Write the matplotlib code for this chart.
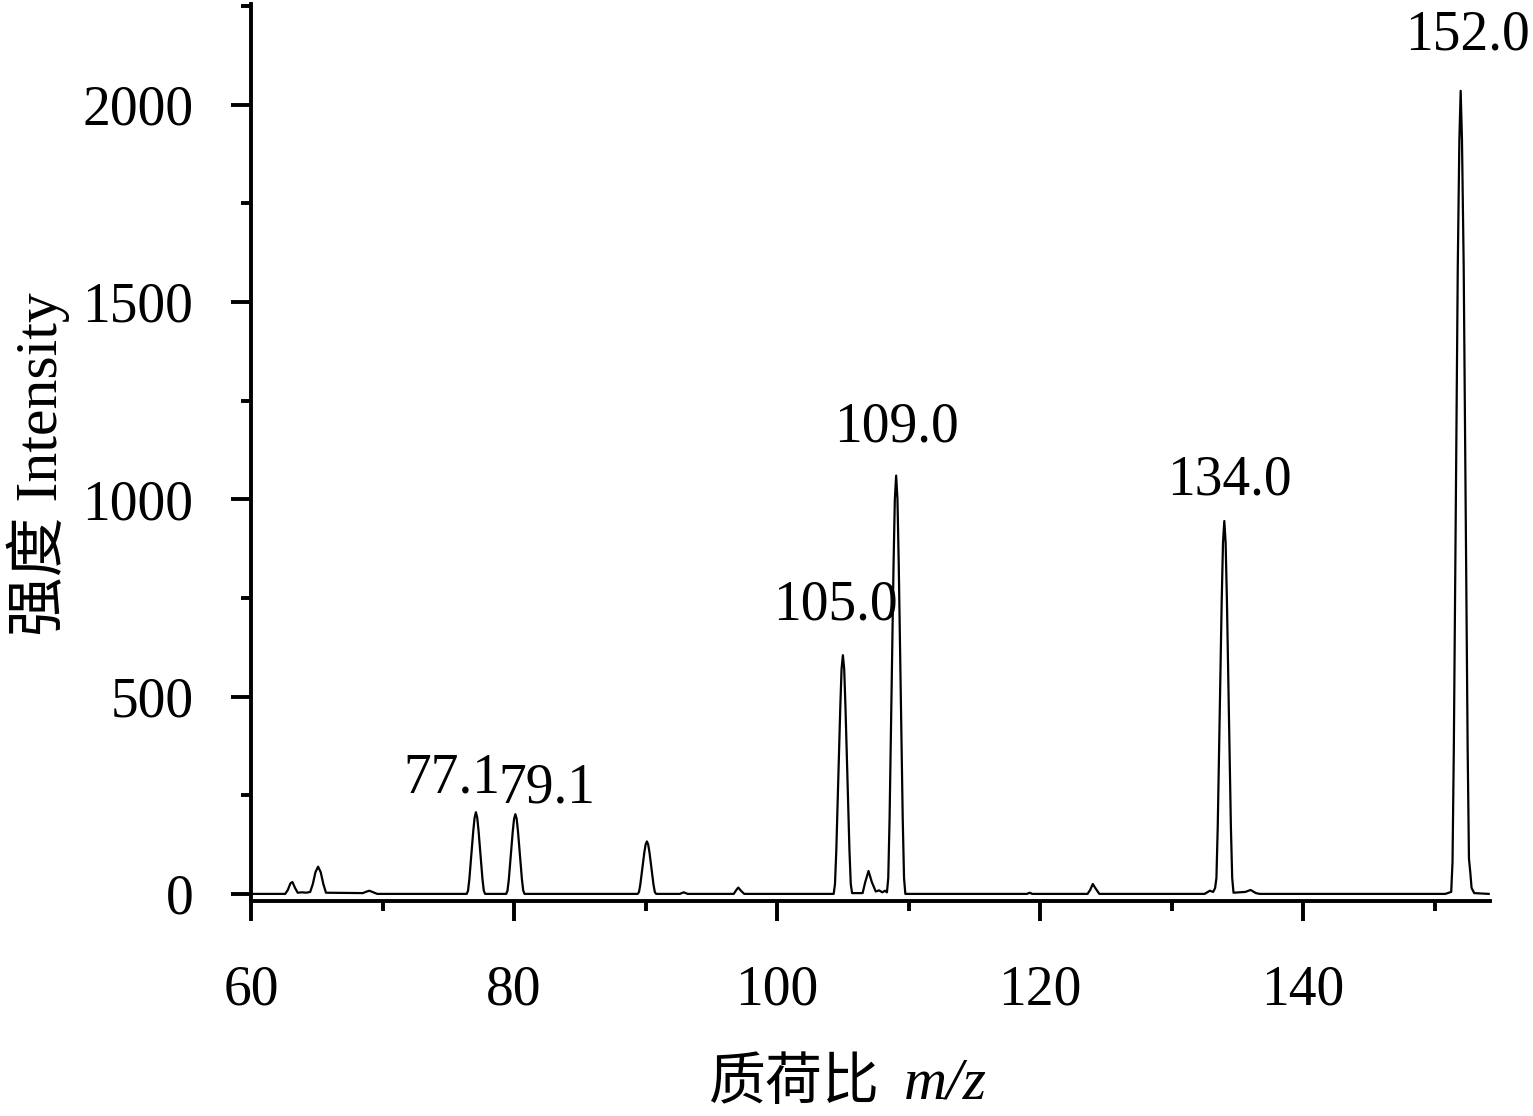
"""Mass spectrum: intensity vs m/z"""

import matplotlib

matplotlib.use("Agg")
import matplotlib.pyplot as plt
from matplotlib.ticker import MultipleLocator

# profile spectrum (m/z, intensity)
mz = [
    60.0, 62.6, 62.8, 63.0, 63.15, 63.35, 63.55, 63.9, 64.2, 64.5,
    64.7, 64.9, 65.1, 65.3, 65.5, 65.7,
    68.5, 68.8, 69.0, 69.3, 69.6,
    76.4, 76.5, 76.6, 76.75, 76.9, 77.0, 77.1, 77.2, 77.3, 77.45, 77.6, 77.7, 77.8,
    79.4, 79.5, 79.6, 79.75, 79.9, 80.0, 80.1, 80.2, 80.3, 80.45, 80.6, 80.7, 80.8,
    89.4, 89.5, 89.6, 89.75, 89.9, 90.0, 90.1, 90.2, 90.3, 90.45, 90.6, 90.7, 90.8,
    92.6, 92.9, 93.2, 96.7, 96.9, 97.05, 97.25, 97.5,
    104.3, 104.4, 104.5, 104.65, 104.8, 104.9, 105.0, 105.1, 105.2, 105.35,
    105.5, 105.6, 105.7,
    106.5, 106.7, 106.95, 107.2, 107.5, 107.75, 108.0, 108.2,
    108.35, 108.45, 108.55, 108.7, 108.85, 108.95, 109.05, 109.15, 109.25, 109.4,
    109.55, 109.65, 109.75,
    119.0, 119.2, 119.4, 123.6, 123.8, 124.0, 124.25, 124.5,
    132.5, 132.9, 133.15, 133.3, 133.4, 133.5, 133.65, 133.8, 133.9, 134.0,
    134.1, 134.2, 134.35, 134.5, 134.6, 134.7, 135.6, 136.0, 136.4, 136.7,
    150.8, 151.25, 151.35, 151.45, 151.6, 151.75, 151.87, 151.97, 152.07, 152.2,
    152.35, 152.5, 152.6, 152.7, 152.8, 153.0, 154.1,
]
intensity = [
    0, 0, 10, 27, 30, 15, 3, 4, 3, 5,
    25, 55, 69, 55, 25, 3,
    2, 6, 8, 4, 0,
    0, 8, 37, 98, 160, 193, 207, 193, 160, 98, 37, 8, 0,
    0, 8, 36, 97, 158, 190, 202, 190, 158, 97, 36, 8, 0,
    0, 5, 24, 64, 104, 125, 133, 125, 104, 64, 24, 5, 0,
    0, 4, 0, 0, 10, 16, 8, 0,
    0, 25, 110, 290, 470, 570, 605, 570, 470, 290,
    110, 25, 2,
    2, 30, 58, 30, 6, 9, 4, 8,
    4, 40, 190, 510, 830, 1000, 1060, 1000, 830, 510,
    190, 40, 0,
    0, 3, 0, 0, 10, 25, 12, 0,
    0, 8, 5, 15, 40, 170, 450, 740, 890, 945,
    890, 740, 450, 170, 40, 3, 5, 10, 2, 0,
    0, 5, 80, 370, 980, 1590, 1910, 2035, 1910, 1590,
    980, 370, 90, 55, 15, 2, 0,
]

# peak annotations and where their text sits (data coords, baseline)
peak_labels = ["77.1", "79.1", "105.0", "109.0", "134.0", "152.0"]
label_x = [75.3, 82.5, 104.4, 109.05, 134.4, 152.5]
label_y = [256, 231, 695, 1147, 1013, 2140]

SERIF = ["Liberation Serif", "Noto Sans CJK SC"]
plt.rcParams["font.family"] = SERIF

fig = plt.figure(figsize=(15.33, 11.16), dpi=100)
ax = fig.add_axes([251 / 1533, 1 - 901 / 1116, 1239 / 1533, 897 / 1116])

ax.plot(mz, intensity, color="black", linewidth=1.6)

for text, x, y in zip(peak_labels, label_x, label_y):
    ax.text(x, y, text, ha="center", va="baseline", fontsize=40)

ax.set_xlim(60, 154.2)
ax.set_ylim(-18, 2255)

ax.xaxis.set_major_locator(MultipleLocator(20))
ax.xaxis.set_minor_locator(MultipleLocator(10))
ax.yaxis.set_major_locator(MultipleLocator(500))
ax.yaxis.set_minor_locator(MultipleLocator(250))

for side in ("top", "right"):
    ax.spines[side].set_visible(False)
for side in ("left", "bottom"):
    ax.spines[side].set_linewidth(2.8)

ax.tick_params(which="both", direction="out", width=2.8, labelsize=40)
ax.tick_params(which="major", length=14.5)
ax.tick_params(which="minor", length=7.5)
ax.tick_params(axis="x", which="major", pad=31)
ax.tick_params(axis="y", which="major", pad=27)

ax.text(-0.197, 0.487, "强度 Intensity", transform=ax.transAxes, rotation=90,
        ha="left", va="center", fontsize=43)
ax.text(0.508, -0.175, "质荷比", transform=ax.transAxes,
        ha="right", va="top", fontsize=41)
ax.text(0.527, -0.175, "m/z", transform=ax.transAxes, style="italic",
        ha="left", va="top", fontsize=43, family="Liberation Serif")

fig.savefig("out.png", dpi=100)
plt.close(fig)
